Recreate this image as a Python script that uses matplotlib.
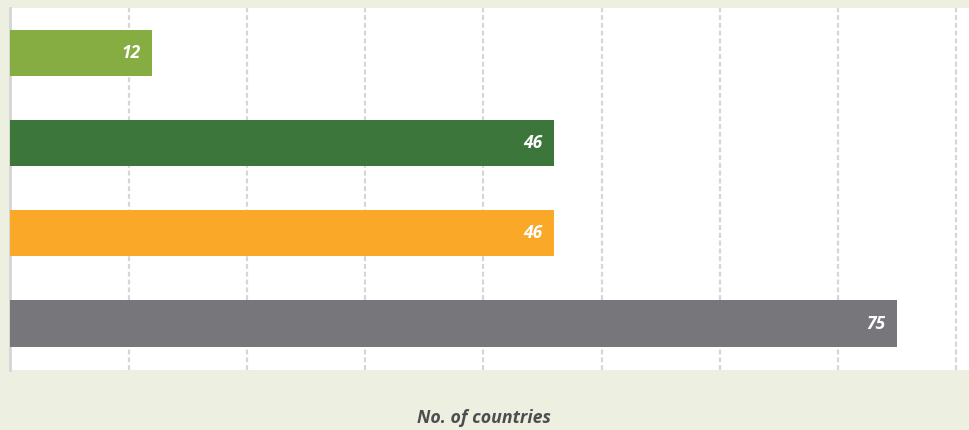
import numpy as np
import matplotlib.pyplot as plt

# data (top to bottom)
categories = ["Group A", "Group B", "Group C", "Group D"]
values = [12, 46, 46, 75]
colors = ["#85AD42", "#3C763A", "#F9A828", "#77777B"]

bg = "#EDF0E0"

fig = plt.figure(figsize=(9.7, 4.3), dpi=100)
fig.patch.set_facecolor(bg)
ax = fig.add_axes([10.5 / 970, 1 - 370 / 430, 960 / 970, 362 / 430])
ax.set_facecolor("white")

y = np.arange(len(categories))
bars = ax.barh(y, values, height=0.51, color=colors, zorder=3)

# value labels inside bar ends
for b, v in zip(bars, values):
    ax.text(b.get_width() - 1.0, b.get_y() + b.get_height() / 2, str(v),
            ha="right", va="center", color="white", fontsize=12.5,
            fontweight="bold", fontstyle="italic", family="Open Sans", zorder=4)

ax.set_xlim(0, 81.2)
ax.set_ylim(3.515, -0.495)
ax.set_xticks(np.arange(10, 90, 10))
ax.set_yticks([])
ax.tick_params(axis="x", length=0, labelbottom=False)
ax.grid(axis="x", color="#D6D6D6", linestyle=(0, (2.2, 1.3)), linewidth=1.6, zorder=1)

for s in ["top", "right", "bottom"]:
    ax.spines[s].set_visible(False)
ax.spines["left"].set_color("#D5D5D5")
ax.spines["left"].set_linewidth(2)

fig.text(484 / 970, 1 - 418 / 430, "No. of countries", ha="center", va="center",
         fontsize=12.8, fontweight="bold", fontstyle="italic", color="#4D4D4F",
         family="Open Sans")

fig.savefig("out.png", dpi=100, facecolor=bg)
